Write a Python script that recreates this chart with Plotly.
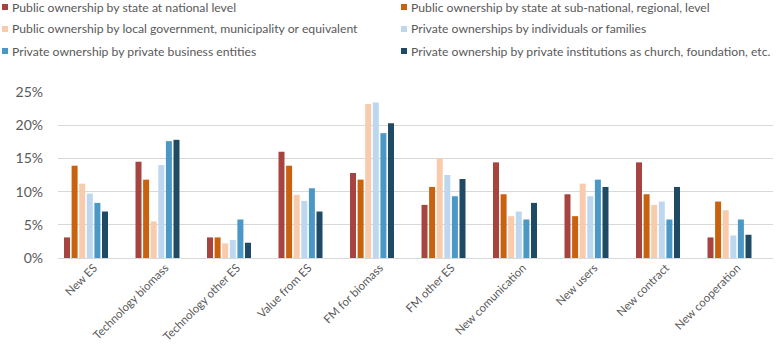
import plotly.graph_objects as go

categories = ["New ES", "Technology biomass", "Technology other ES", "Value from ES",
              "FM for biomass", "FM other ES", "New comunication", "New users",
              "New contract", "New cooperation"]

series_names = [
    "Public ownership by state at national level",
    "Public ownership by state at sub-national, regional, level",
    "Public ownership by local government, municipality or equivalent",
    "Private ownerships by individuals or families",
    "Private ownership by private business entities",
    "Private ownership by private institutions as church, foundation, etc.",
]

state_national = [3.1, 14.5, 3.1, 16.0, 12.8, 8.0, 14.4, 9.6, 14.4, 3.1]
state_subnational = [13.9, 11.8, 3.1, 13.9, 11.8, 10.7, 9.6, 6.3, 9.6, 8.5]
local_government = [11.2, 5.5, 2.2, 9.5, 23.2, 15.0, 6.3, 11.2, 8.0, 7.2]
individuals = [9.7, 14.0, 2.7, 8.6, 23.4, 12.5, 7.0, 9.3, 8.5, 3.4]
business = [8.3, 17.6, 5.8, 10.5, 18.8, 9.3, 5.8, 11.8, 5.8, 5.8]
institutions = [7.0, 17.8, 2.3, 7.0, 20.3, 11.9, 8.3, 10.7, 10.7, 3.5]

y_ticks = [0, 5, 10, 15, 20, 25]
y_tick_labels = ["0%", "5%", "10%", "15%", "20%", "25%"]

series_values = [state_national, state_subnational, local_government,
                 individuals, business, institutions]
colors = ["#A84440", "#C8620F", "#F8CBAD", "#BDD7EE", "#4B98C6", "#1F4A66"]

W, H = 776, 353
ML, MR, MT, MB = 58, 3, 92, 95
plot_w = W - ML - MR
plot_h = H - MT - MB
cat_px = plot_w / len(categories)

bar_w_px = 6.0
pitch_px = 7.6
first_off_px = -29.75

fig = go.Figure()
for i, (name, vals, col) in enumerate(zip(series_names, series_values, colors)):
    fig.add_trace(go.Bar(
        x=categories, y=vals, name=name,
        marker=dict(color=col, line=dict(width=0)),
        offset=(first_off_px + pitch_px * i) / cat_px,
        width=bar_w_px / cat_px,
        showlegend=False,
    ))

# custom legend (two columns, three rows)
def px_to_paper_x(px):
    return (px - ML) / plot_w

def px_to_paper_y(py):
    return (H - MB - py) / plot_h

col_x = [2, 401]
row_y = [7, 29, 51]
for i, (name, col) in enumerate(zip(series_names, colors)):
    r, c = divmod(i, 2)
    x0 = col_x[c]
    yc = row_y[r]
    fig.add_shape(type="rect", xref="paper", yref="paper",
                  x0=px_to_paper_x(x0), x1=px_to_paper_x(x0 + 6),
                  y0=px_to_paper_y(yc + 3), y1=px_to_paper_y(yc - 3),
                  fillcolor=col, line=dict(width=0))
    fig.add_annotation(text=name, xref="paper", yref="paper",
                       x=px_to_paper_x(x0 + 8), y=px_to_paper_y(yc),
                       xanchor="left", yanchor="middle", showarrow=False,
                       font=dict(family="Lato", size=12.2, color="#595959"))

fig.update_layout(
    width=W, height=H,
    margin=dict(l=ML, r=MR, t=MT, b=MB, pad=0),
    paper_bgcolor="white", plot_bgcolor="white",
    barmode="overlay",
    showlegend=False,
    font=dict(family="Lato", color="#595959"),
)
fig.update_xaxes(
    type="category", range=[-0.5, len(categories) - 0.5],
    tickangle=-45, tickfont=dict(family="Lato", size=11.5, color="#595959"),
    showgrid=False, showline=False, ticks="", automargin=False,
)
fig.update_yaxes(
    range=[0, 25], tickmode="array", tickvals=y_ticks, ticktext=y_tick_labels,
    tickfont=dict(family="Lato", size=14, color="#595959"),
    showgrid=True, gridcolor="#D9D9D9", gridwidth=1,
    zeroline=True, zerolinecolor="#D9D9D9", zerolinewidth=1,
    showline=False, ticks="", automargin=False, ticklabelstandoff=14,
)

fig.write_html("out.html", config={"displayModeBar": False},
               post_script="document.body.style.margin='0';document.body.style.padding='0';")
